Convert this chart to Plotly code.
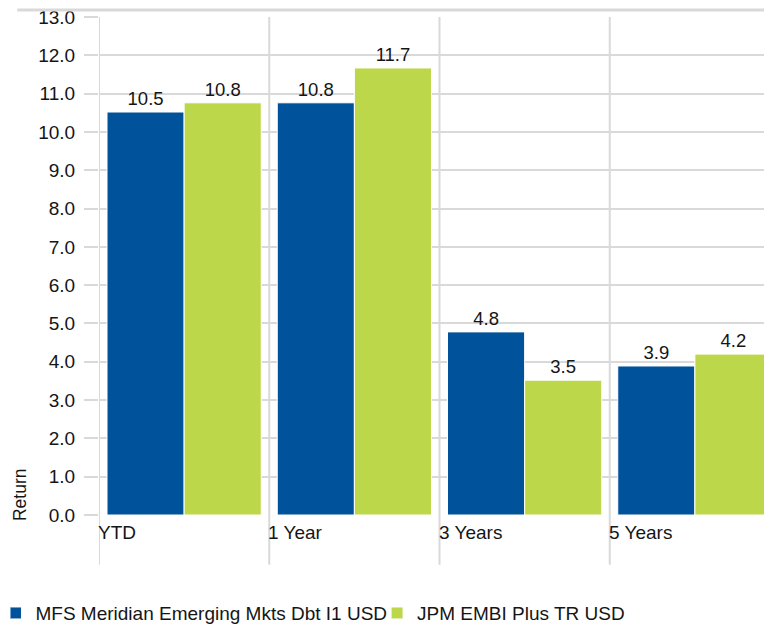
import plotly.graph_objects as go

categories = ["YTD", "1 Year", "3 Years", "5 Years"]
fund_name = "MFS Meridian Emerging Mkts Dbt I1 USD"
bench_name = "JPM EMBI Plus TR USD"
fund_values = [10.52, 10.76, 4.78, 3.89]
bench_values = [10.76, 11.67, 3.52, 4.20]
y_ticks = [0, 1, 2, 3, 4, 5, 6, 7, 8, 9, 10, 11, 12, 13]

BLUE = "#00529B"
GREEN = "#BDD74B"
GRID = "#D9D9D9"
TXT = "#151515"
FONT = "Liberation Sans"

xpos = list(range(len(categories)))

fig = go.Figure()
fig.add_trace(go.Bar(
    x=xpos, y=fund_values, name=fund_name,
    marker=dict(color=BLUE, line=dict(color="white", width=1)),
    texttemplate="%{y:.1f}", textposition="outside",
    textfont=dict(family=FONT, size=18.5, color=TXT), cliponaxis=False,
))
fig.add_trace(go.Bar(
    x=xpos, y=bench_values, name=bench_name,
    marker=dict(color=GREEN, line=dict(color="white", width=1)),
    texttemplate="%{y:.1f}", textposition="outside",
    textfont=dict(family=FONT, size=18.5, color=TXT), cliponaxis=False,
))

# category separators extending below the axis
for i in range(len(categories)):
    fig.add_shape(type="line", xref="x", yref="paper", x0=i - 0.5, x1=i - 0.5,
                  y0=-0.1, y1=1, line=dict(color=GRID, width=2), layer="below")
    fig.add_annotation(x=i - 0.5, y=-0.036, xref="x", yref="paper", text=categories[i],
                       showarrow=False, xanchor="left", yanchor="middle", xshift=-3,
                       font=dict(family=FONT, size=19, color=TXT))

fig.add_annotation(x=-0.116, y=0.04, xref="paper", yref="paper", text="Return",
                   textangle=-90, showarrow=False, xanchor="center", yanchor="middle",
                   font=dict(family=FONT, size=17.5, color=TXT))

# thin border line at the very top of the chart
fig.add_shape(type="rect", xref="paper", yref="paper", x0=-0.12, x1=1.0,
              y0=1.011, y1=1.017, line=dict(width=0), fillcolor=GRID, layer="above")

fig.update_layout(
    width=772, height=627,
    margin=dict(l=91, r=0, t=9, b=120),
    paper_bgcolor="white", plot_bgcolor="white",
    barmode="group", bargap=0.094, bargroupgap=0.0,
    showlegend=True,
    legend=dict(orientation="h", x=-0.13, y=-0.197,
                xanchor="left", yanchor="middle", indentation=-15,
                font=dict(family=FONT, size=19, color=TXT),
                itemwidth=30, traceorder="normal"),
    xaxis=dict(range=[-0.5, 3.5], showticklabels=False, showgrid=False,
               zeroline=False, fixedrange=True),
    yaxis=dict(range=[0, 13], tickvals=y_ticks, tickformat=".1f",
               showgrid=True, gridcolor=GRID, gridwidth=2, zeroline=False,
               ticks="outside", ticklen=14, tickcolor=GRID, tickwidth=2,
               ticklabelstandoff=5, ticklabeloverflow="allow",
               tickfont=dict(family=FONT, size=19, color=TXT)),
    font=dict(family=FONT, size=19, color=TXT),
)

fig.write_html("out.html")
